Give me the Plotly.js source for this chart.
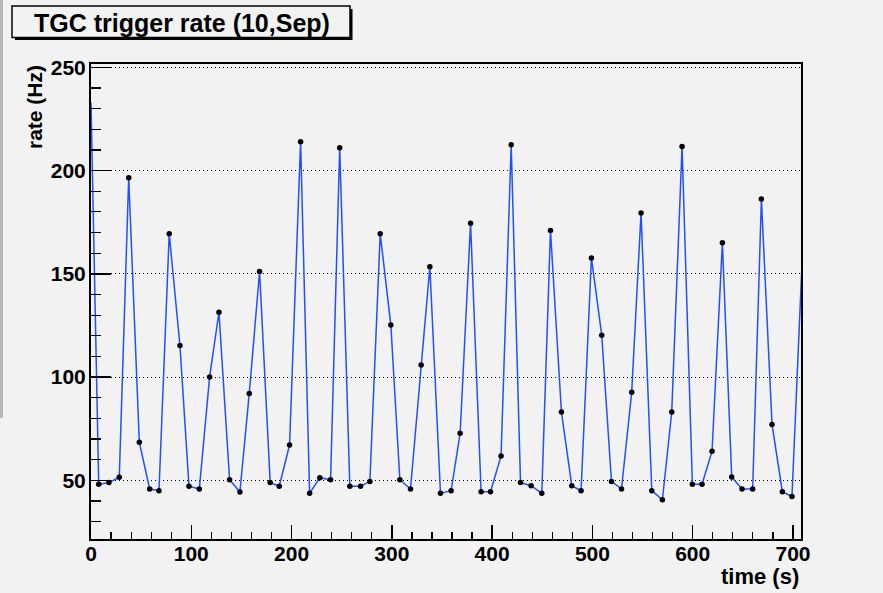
<!DOCTYPE html>
<html>
<head>
<meta charset="utf-8">
<script src="https://cdn.plot.ly/plotly-3.0.1.min.js"></script>
<style>
  html, body { margin: 0; padding: 0; background: #f2f2f2; }
  #chart { width: 883px; height: 593px; }
</style>
</head>
<body>
<div id="chart"></div>
<script>
// Data
const timeSec = [0, 7.7, 17.9, 28.2, 37.6, 48.2, 58.5, 67.8, 78, 88.7, 97.7, 108, 118.3, 127.6, 138.2, 148.5,
  157.8, 168.1, 178.7, 187.7, 198, 209, 218, 228.2, 238.9, 248, 258.1, 268.8, 278.1, 288.4, 299, 308,
  318.6, 329.2, 337.9, 348.5, 359.1, 368.1, 378.5, 389, 398.4, 408.9, 419, 428.3, 438.9, 449.5, 458.2,
  469.1, 479.4, 488.7, 499, 509.3, 519, 529, 539.2, 548.5, 559.2, 569.8, 579.1, 589.4, 599.7, 609.3,
  619.3, 629.6, 638.9, 649.2, 659.8, 668.5, 679.1, 689.4, 699, 709];
const rateHz = [233, 48.1, 48.9, 51.5, 196.5, 68.4, 45.8, 45.0, 169.4, 115.3, 47.2, 45.8, 100.1, 131.4, 50.3, 44.4,
  92.0, 151.1, 48.9, 47.2, 67.1, 213.9, 43.7, 51.3, 50.3, 211.0, 47.2, 47.2, 49.5, 169.4, 125.2, 50.3,
  45.8, 105.8, 153.4, 43.7, 45.0, 72.8, 174.5, 44.5, 44.5, 61.8, 212.5, 48.9, 47.4, 43.7, 171.0,
  83.1, 47.4, 45.0, 157.7, 120.3, 49.5, 45.8, 92.7, 179.5, 45.0, 40.6, 83.1, 211.7, 48.1, 48.1,
  64.1, 165.0, 51.6, 45.8, 45.8, 186.2, 77.1, 44.5, 42.2, 155];
const xTickVals = [0, 100, 200, 300, 400, 500, 600, 700];
const yTickVals = [50, 100, 150, 200, 250];
const chartTitle = 'TGC trigger rate (10,Sep)';
const xTitle = 'time (s)';
const yTitle = 'rate (Hz)';

// layout geometry (pixels)
const W = 883, H = 593;
const L = 91, R = 82, T = 64, B = 54;
const pw = W - L - R, ph = H - T - B;
const px = x => (x - L) / pw;
const py = y => (H - B - y) / ph;

const font = 'Liberation Sans, Arial, Helvetica, sans-serif';

// markers of the two points sitting on the frame edges are not shown in the reference
const markerSizes = timeSec.map((t, i) => (i === 0 || i === timeSec.length - 1) ? 0 : 5.5);

const trace = {
  x: timeSec, y: rateHz, type: 'scatter', mode: 'lines+markers',
  line: { color: '#2050ff', width: 1.5 },
  marker: { color: '#000000', size: markerSizes, symbol: 'circle', opacity: 1,
            line: { width: 0, color: '#000000' } },
  cliponaxis: true, hoverinfo: 'x+y'
};

const layout = {
  width: W, height: H,
  margin: { l: L, r: R, t: T, b: B, pad: 0 },
  paper_bgcolor: '#f2f2f2', plot_bgcolor: '#f2f2f2',
  showlegend: false,
  font: { family: font, color: '#000' },
  xaxis: {
    range: [0, 708], tickvals: xTickVals, ticktext: xTickVals.map(String),
    ticks: 'inside', ticklen: 14, tickwidth: 1.5, tickcolor: '#000',
    minor: { dtick: 20, tick0: 0, ticks: 'inside', ticklen: 7, tickwidth: 1.2, tickcolor: '#000', showgrid: false },
    showline: true, linecolor: '#000', linewidth: 2, mirror: true,
    showgrid: false, zeroline: false,
    tickfont: { family: font, size: 21, weight: 'bold', color: '#000' },
    ticklabelstandoff: -5
  },
  yaxis: {
    range: [21.6, 251.6], tickvals: yTickVals, ticktext: yTickVals.map(String),
    ticks: 'inside', ticklen: 20, tickwidth: 1.5, tickcolor: '#000',
    minor: { dtick: 10, tick0: 0, ticks: 'inside', ticklen: 10, tickwidth: 1.2, tickcolor: '#000', showgrid: false },
    showline: true, linecolor: '#000', linewidth: 2, mirror: true,
    showgrid: true, gridcolor: '#000', gridwidth: 1, griddash: '1px,3px', zeroline: false,
    tickfont: { family: font, size: 21, weight: 'bold', color: '#000' },
    ticklabelstandoff: -1
  },
  shapes: [
    // left window edge strip
    { type: 'rect', xref: 'paper', yref: 'paper', x0: px(0), x1: px(3), y0: py(418), y1: py(0),
      fillcolor: '#b8b8b8', line: { width: 0 }, layer: 'below' },
    // title box shadow
    { type: 'rect', xref: 'paper', yref: 'paper', x0: px(15), x1: px(352.5), y0: py(40), y1: py(9),
      fillcolor: '#000', line: { width: 0 } },
    // title box
    { type: 'rect', xref: 'paper', yref: 'paper', x0: px(12), x1: px(350), y0: py(37.5), y1: py(6),
      fillcolor: '#f2f2f2', line: { color: '#000', width: 1.5 } }
  ],
  annotations: [
    { text: chartTitle, xref: 'paper', yref: 'paper', x: px(181.5), y: py(22.5),
      xanchor: 'center', yanchor: 'middle', showarrow: false,
      font: { family: font, size: 25, weight: 'bold', color: '#000' } },
    { text: yTitle, xref: 'paper', yref: 'paper', x: px(35), y: py(63),
      xanchor: 'center', yanchor: 'top', textangle: -90, showarrow: false,
      font: { family: font, size: 21, weight: 'bold', color: '#000' } },
    { text: xTitle, xref: 'paper', yref: 'paper', x: px(801), y: py(576.5),
      xanchor: 'right', yanchor: 'middle', showarrow: false,
      font: { family: font, size: 22, weight: 'bold', color: '#000' } }
  ]
};

Plotly.newPlot('chart', [trace], layout, { displayModeBar: false, staticPlot: true });
</script>
</body>
</html>
